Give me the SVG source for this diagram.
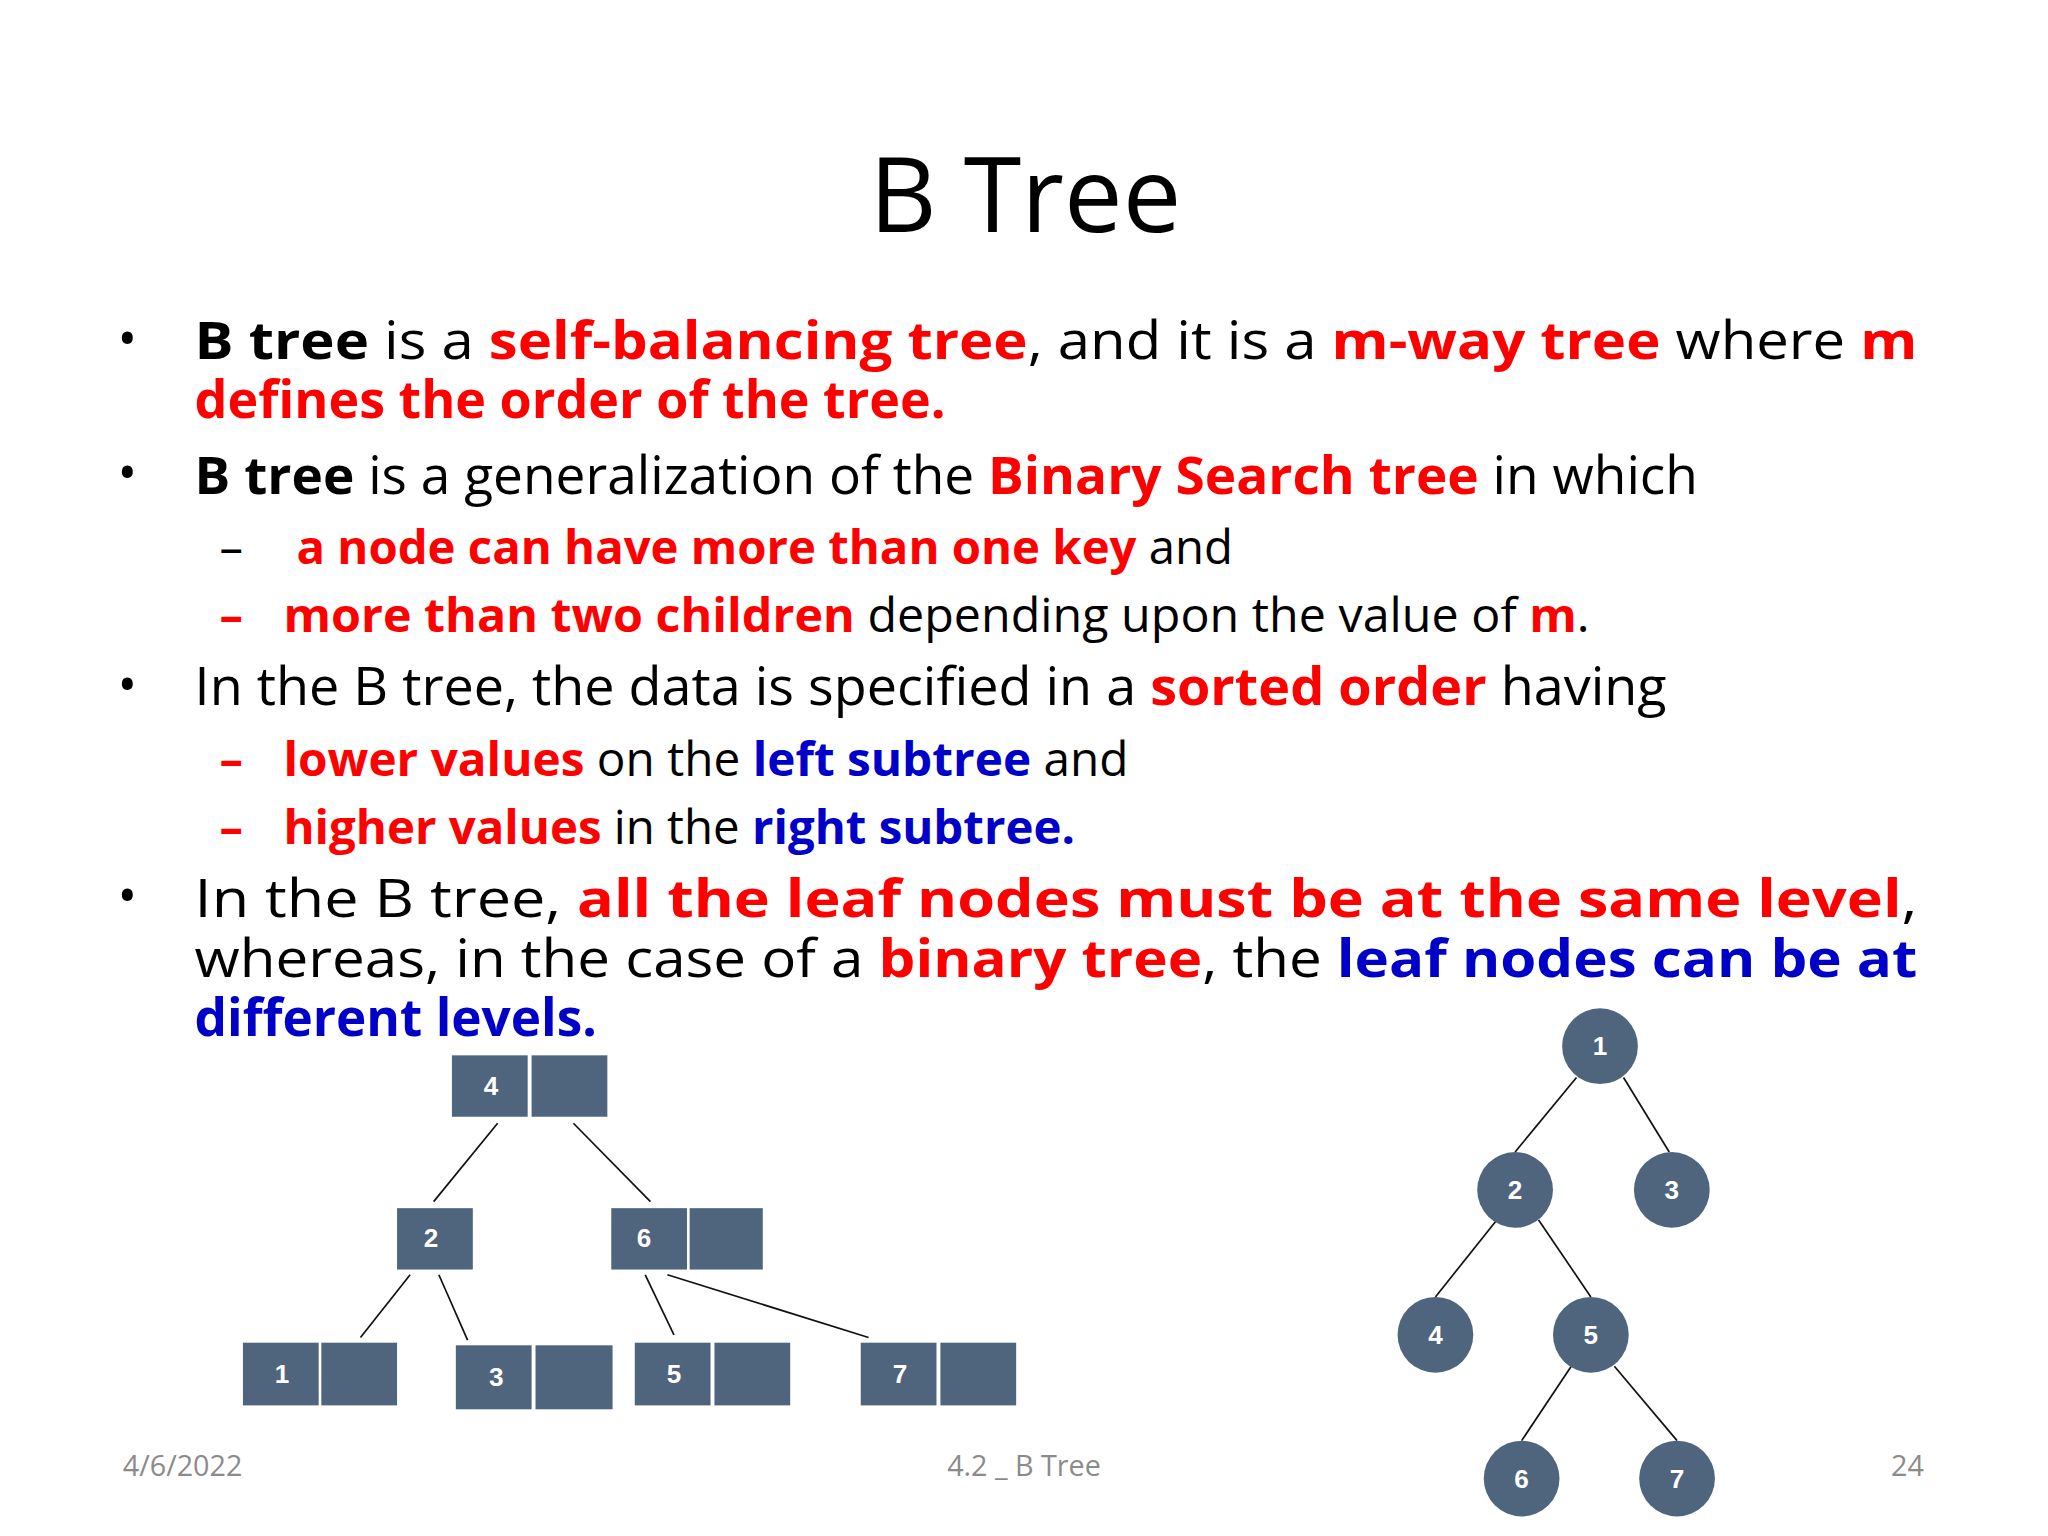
<svg xmlns="http://www.w3.org/2000/svg" width="2048" height="1536" viewBox="0 0 2048 1536">
<style>
.t{font-family:"Open Sans","Liberation Sans",sans-serif;fill:#000}
.b{font-weight:bold}
.r{fill:#ff0000;font-weight:bold}
.u{fill:#0000c8;font-weight:bold}
.bx{fill:#4f657e}
.ln{stroke:#111;stroke-width:1.3;fill:none}
.nl{font-family:"Liberation Sans",Arial,sans-serif;font-weight:bold;font-size:20px;fill:#fff;text-anchor:middle}
.ft{font-family:"Open Sans","Liberation Sans",sans-serif;font-size:22px;fill:#8b8b8b}
</style>
<rect width="2048" height="1536" fill="#fff"/>
<g transform="scale(1.30612)">
<g id="text">
<text class="t" x="785" y="178" font-size="80" text-anchor="middle">B Tree</text>
<g font-size="40">
<text class="t" x="90" y="273">•</text>
<text class="t" x="149" y="275" font-size="40" textLength="1319" lengthAdjust="spacingAndGlyphs"><tspan class="b">B tree</tspan> is a <tspan class="r">self-balancing tree</tspan>, and it is a <tspan class="r">m-way tree</tspan> where <tspan class="r">m</tspan></text>
<text class="t r" x="149" y="320" font-size="40" textLength="575" lengthAdjust="spacingAndGlyphs">defines the order of the tree.</text>
<text class="t" x="90" y="376">•</text>
<text class="t" x="149" y="378" font-size="40" textLength="1151" lengthAdjust="spacingAndGlyphs"><tspan class="b">B tree</tspan> is a generalization of the <tspan class="r">Binary Search tree</tspan> in which</text>
<text class="t" x="168" y="432" font-size="36">–</text>
<text class="t" x="227" y="432" font-size="36" textLength="717" lengthAdjust="spacingAndGlyphs"><tspan class="r">a node can have more than one key</tspan> and</text>
<text class="t r" x="168" y="484" font-size="36">–</text>
<text class="t" x="217" y="484" font-size="36" textLength="1000" lengthAdjust="spacingAndGlyphs"><tspan class="r">more than two children</tspan> depending upon the value of <tspan class="r">m</tspan>.</text>
<text class="t" x="90" y="538">•</text>
<text class="t" x="149" y="540" font-size="40" textLength="1127" lengthAdjust="spacingAndGlyphs">In the B tree, the data is specified in a <tspan class="r">sorted order</tspan> having</text>
<text class="t r" x="168" y="594" font-size="36">–</text>
<text class="t" x="217" y="594" font-size="36" textLength="647" lengthAdjust="spacingAndGlyphs"><tspan class="r">lower values</tspan> on the <tspan class="u">left subtree</tspan> and</text>
<text class="t r" x="168" y="646" font-size="36">–</text>
<text class="t" x="217" y="646" font-size="36" textLength="606" lengthAdjust="spacingAndGlyphs"><tspan class="r">higher values</tspan> in the <tspan class="u">right subtree.</tspan></text>
<text class="t" x="90" y="700">•</text>
<text class="t" x="149" y="702" font-size="40" textLength="1319" lengthAdjust="spacingAndGlyphs">In the B tree, <tspan class="r">all the leaf nodes must be at the same level</tspan>,</text>
<text class="t" x="149" y="748" font-size="40" textLength="1319" lengthAdjust="spacingAndGlyphs">whereas, in the case of a <tspan class="r">binary tree</tspan>, the <tspan class="u">leaf nodes can be at</tspan></text>
<text class="t u" x="149" y="793" font-size="40" textLength="308" lengthAdjust="spacingAndGlyphs">different levels.</text>
</g>
</g>
<g id="connectors">
<line class="ln" x1="381" y1="860" x2="332" y2="920"/>
<line class="ln" x1="439" y1="860" x2="498" y2="920"/>
<line class="ln" x1="314" y1="976" x2="276" y2="1024"/>
<line class="ln" x1="336" y1="976" x2="358" y2="1026"/>
<line class="ln" x1="494" y1="976" x2="516" y2="1022"/>
<line class="ln" x1="511" y1="976" x2="665" y2="1024" stroke-width="2"/>
<line class="ln" x1="1207" y1="825" x2="1160" y2="882"/>
<line class="ln" x1="1243" y1="825" x2="1278" y2="882"/>
<line class="ln" x1="1146" y1="934" x2="1099" y2="993"/>
<line class="ln" x1="1178" y1="934" x2="1218" y2="993"/>
<line class="ln" x1="1203" y1="1046" x2="1165" y2="1103"/>
<line class="ln" x1="1236" y1="1046" x2="1284" y2="1103"/>
</g>
<g id="bt4"><rect class="bx" x="346" y="808" width="58" height="47"/><rect class="bx" x="407" y="808" width="58" height="47"/><text class="nl" x="376" y="838">4</text></g>
<g id="bt2"><rect class="bx" x="304" y="925" width="58" height="47"/><text class="nl" x="330" y="955">2</text></g>
<g id="bt6"><rect class="bx" x="468" y="925" width="58" height="47"/><rect class="bx" x="528" y="925" width="56" height="47"/><text class="nl" x="493" y="955">6</text></g>
<g id="bt1"><rect class="bx" x="186" y="1028" width="58" height="48"/><rect class="bx" x="246" y="1028" width="58" height="48"/><text class="nl" x="216" y="1059">1</text></g>
<g id="bt3"><rect class="bx" x="349" y="1030" width="58" height="49"/><rect class="bx" x="410" y="1030" width="59" height="49"/><text class="nl" x="380" y="1061">3</text></g>
<g id="bt5"><rect class="bx" x="486" y="1028" width="58" height="48"/><rect class="bx" x="547" y="1028" width="58" height="48"/><text class="nl" x="516" y="1059">5</text></g>
<g id="bt7"><rect class="bx" x="659" y="1028" width="58" height="48"/><rect class="bx" x="720" y="1028" width="58" height="48"/><text class="nl" x="689" y="1059">7</text></g>
<g id="c1"><circle class="bx" cx="1225" cy="801" r="29"/><text class="nl" x="1225" y="808" font-size="18">1</text></g>
<g id="c2"><circle class="bx" cx="1160" cy="911" r="29"/><text class="nl" x="1160" y="918" font-size="18">2</text></g>
<g id="c3"><circle class="bx" cx="1280" cy="911" r="29"/><text class="nl" x="1280" y="918" font-size="18">3</text></g>
<g id="c4"><circle class="bx" cx="1099" cy="1022" r="29"/><text class="nl" x="1099" y="1029" font-size="18">4</text></g>
<g id="c5"><circle class="bx" cx="1218" cy="1022" r="29"/><text class="nl" x="1218" y="1029" font-size="18">5</text></g>
<g id="c6"><circle class="bx" cx="1165" cy="1132" r="29"/><text class="nl" x="1165" y="1139" font-size="18">6</text></g>
<g id="c7"><circle class="bx" cx="1284" cy="1132" r="29"/><text class="nl" x="1284" y="1139" font-size="18">7</text></g>
<g id="footer">
<text class="ft" x="94" y="1130">4/6/2022</text>
<text class="ft" x="784" y="1130" text-anchor="middle">4.2 _ B Tree</text>
<text class="ft" x="1473" y="1130" text-anchor="end">24</text>
</g>
</g>
</svg>
